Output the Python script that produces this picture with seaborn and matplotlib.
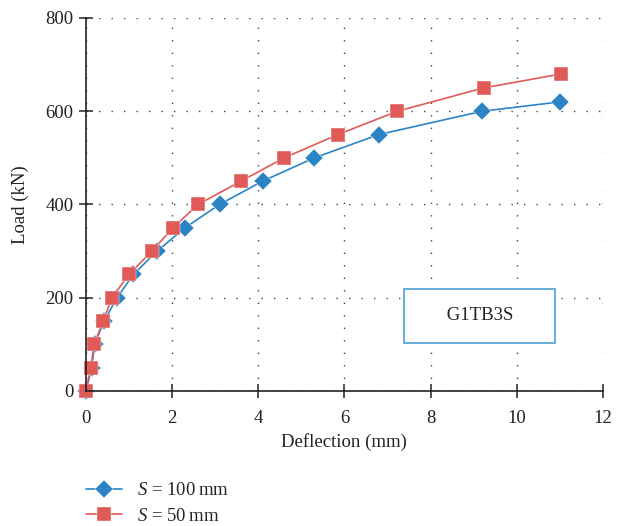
import matplotlib
matplotlib.use("Agg")
import matplotlib.pyplot as plt
from matplotlib.lines import Line2D
import seaborn as sns
import pandas as pd

# Load–deflection readings for two stud spacings
defl_s100 = [0.0, 0.13, 0.2, 0.42, 0.72, 1.1, 1.65, 2.3, 3.1, 4.1, 5.3, 6.8, 9.2, 11.0]
load_s100 = [0, 50, 100, 150, 200, 250, 300, 350, 400, 450, 500, 550, 600, 620]
defl_s50 = [0.0, 0.11, 0.19, 0.4, 0.6, 1.0, 1.53, 2.02, 2.6, 3.6, 4.6, 5.85, 7.23, 9.23, 11.04]
load_s50 = [0, 50, 100, 150, 200, 250, 300, 350, 400, 450, 500, 550, 600, 650, 680]

series_labels = ["$S$ = 100\u2009mm", "$S$ = 50\u2009mm"]
x_ticks = [0, 2, 4, 6, 8, 10, 12]
y_ticks = [0, 200, 400, 600, 800]
specimen = "G1TB3S"

sns.set_theme(style="white")
plt.rcParams["font.family"] = ["Liberation Serif", "DejaVu Serif"]
plt.rcParams["mathtext.fontset"] = "custom"
plt.rcParams["mathtext.it"] = "Liberation Serif:italic"
plt.rcParams["mathtext.rm"] = "Liberation Serif"

df = pd.concat([
    pd.DataFrame({"defl": defl_s100, "load": load_s100, "series": series_labels[0]}),
    pd.DataFrame({"defl": defl_s50, "load": load_s50, "series": series_labels[1]}),
], ignore_index=True)

blue = "#2a84c6"
red = "#e05a57"
ink = "#222222"
marker_sizes = [9, 10]

fig = plt.figure(figsize=(6.17, 5.26), dpi=100)
ax = fig.add_axes([0.1394, 0.2567, 0.8376, 0.7091])

sns.lineplot(data=df, x="defl", y="load", hue="series", style="series",
             palette={series_labels[0]: blue, series_labels[1]: red},
             markers={series_labels[0]: "D", series_labels[1]: "s"},
             dashes=False, sort=False, estimator=None, linewidth=1.2,
             ax=ax, legend=False)
for line, ms in zip(ax.lines, marker_sizes):
    line.set_markersize(ms)
    line.set_markeredgecolor("white")
    line.set_markeredgewidth(0.3)
    line.set_clip_on(False)

ax.set_xlim(0, 12)
ax.set_ylim(0, 800)
ax.set_xticks(x_ticks)
ax.set_yticks(y_ticks)
ax.grid(True, linestyle=(0, (1, 8)), color="#444444", linewidth=1.0)
for s in ["top", "right"]:
    ax.spines[s].set_visible(False)
for s in ["left", "bottom"]:
    ax.spines[s].set_color(ink)
    ax.spines[s].set_linewidth(1.2)
ax.tick_params(axis="both", bottom=True, left=True, direction="inout",
               length=10, width=1.1, colors=ink, labelsize=13.5)
ax.tick_params(axis="x", pad=9)
ax.tick_params(axis="y", pad=4)
ax.set_xlabel("Deflection (mm)", fontsize=13.5, color=ink, labelpad=4)
ax.set_ylabel("Load (kN)", fontsize=13.5, color=ink, labelpad=12)

ax.text(9.14, 161, "     " + specimen + "     ", ha="center", va="center",
        fontsize=13.5, color=ink,
        bbox=dict(boxstyle="square,pad=1.0", facecolor="white", edgecolor="#5aa6d8",
                  linewidth=1.3), zorder=5)

handles = [
    Line2D([], [], color=blue, marker="D", markersize=marker_sizes[0], linewidth=1.2,
           markeredgecolor="white", markeredgewidth=0.3),
    Line2D([], [], color=red, marker="s", markersize=marker_sizes[1], linewidth=1.2,
           markeredgecolor="white", markeredgewidth=0.3),
]
fig.legend(handles, series_labels, loc="upper left", bbox_to_anchor=(0.14, 0.083),
           frameon=False, fontsize=13.5, handlelength=1.9, handletextpad=0.8,
           labelspacing=0.45, borderaxespad=0, borderpad=0)

fig.savefig("out.png", dpi=100)
